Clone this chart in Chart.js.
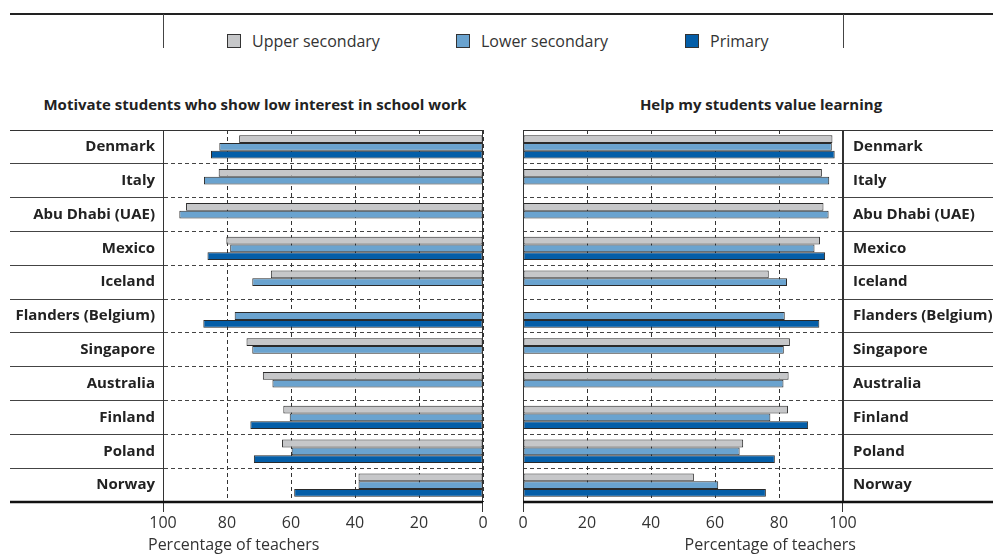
<!DOCTYPE html>
<html>
<head>
<meta charset="utf-8">
<script src="https://cdn.jsdelivr.net/npm/chart.js@4"></script>
<style>
  body { margin: 0; background: #fff; font-family: "Open Sans", sans-serif; color: #222; }
  #page { position: relative; width: 993px; height: 554px; overflow: hidden; }
  .abs { position: absolute; }
  #topRule { left: 10px; top: 13px; width: 983px; height: 2px; background: #222; }
  .vline { top: 14px; width: 1px; height: 34px; background: #444; }
  .legItem { top: 31px; font-size: 16px; line-height: 20px; white-space: nowrap; color: #333; }
  .legItem span { display: inline-block; width: 12px; height: 12px; border: 1px solid #333; vertical-align: -1px; margin-right: 11px; }
  .ptitle { top: 94px; font-size: 15px; font-weight: 700; white-space: nowrap; transform: translateX(-50%); }
  .axTitle { top: 535px; font-size: 16px; line-height: 18px; color: #333; white-space: nowrap; }
  canvas { position: absolute; top: 0; }
</style>
</head>
<body>
<div id="page">
  <div id="topRule" class="abs"></div>
  <div class="abs vline" style="left:163px"></div>
  <div class="abs vline" style="left:843px"></div>
  <div class="abs legItem" style="left:227px"><span style="background:#c6c7c9"></span>Upper secondary</div>
  <div class="abs legItem" style="left:456px"><span style="background:#6aa3cf"></span>Lower secondary</div>
  <div class="abs legItem" style="left:685px"><span style="background:#045ea8"></span>Primary</div>
  <div class="abs ptitle" style="left:255px">Motivate students who show low interest in school work</div>
  <div class="abs ptitle" style="left:761px">Help my students value learning</div>
  <div style="position:absolute;left:0;top:0;width:503px;height:554px"><canvas id="leftChart"></canvas></div>
  <div style="position:absolute;left:503px;top:0;width:490px;height:554px"><canvas id="rightChart"></canvas></div>
  <div class="abs axTitle" style="left:148px">Percentage of teachers</div>
  <div class="abs axTitle" style="right:137px">Percentage of teachers</div>
</div>
<script>
"use strict";

var countries = ['Denmark', 'Italy', 'Abu Dhabi (UAE)', 'Mexico', 'Iceland', 'Flanders (Belgium)',
                 'Singapore', 'Australia', 'Finland', 'Poland', 'Norway'];
var xTicks = [0, 20, 40, 60, 80, 100];

// Motivate students who show low interest in school work
var motivateUpper   = [76.2, 82.6, 92.8, 80.2, 66.3, null, 73.9, 68.8, 62.4, 62.8, 38.9];
var motivateLower   = [82.4, 87.2, 94.9, 79.0, 72.1, 77.6, 72.1, 65.8, 60.4, 59.8, 38.9];
var motivatePrimary = [85.0, null, null, 86.1, null, 87.4, null, null, 72.7, 71.6, 59.0];

// Help my students value learning
var valueUpper   = [96.7, 93.4, 93.9, 92.8, 76.8, null, 83.4, 83.0, 82.8, 68.8, 53.4];
var valueLower   = [96.5, 95.7, 95.5, 91.1, 82.5, 81.8, 81.5, 81.4, 77.3, 67.7, 61.0];
var valuePrimary = [97.4, null, null, 94.4, null, 92.6, null, null, 89.1, 78.7, 75.9];

var colUpper = '#c6c7c9', colLower = '#6aa3cf', colPrimary = '#045ea8';

function makeSets(u, l, p) {
	return [
		{ label: 'Upper secondary', data: u, backgroundColor: colUpper },
		{ label: 'Lower secondary', data: l, backgroundColor: colLower },
		{ label: 'Primary', data: p, backgroundColor: colPrimary }
	].map(function(d) {
		d.borderColor = '#2a2a2a';
		d.borderWidth = 1;
		d.borderSkipped = false;
		d.barPercentage = 1;
		d.categoryPercentage = 0.69;
		return d;
	});
}

// frame lines: top rule, thick bottom rule, solid 0 / 100 lines
var frame = {
	id: 'frame',
	afterDraw: function(chart, args, opts) {
		var c = chart.ctx, a = chart.chartArea;
		c.save();
		c.strokeStyle = '#333';
		c.lineWidth = 1;
		c.beginPath();
		c.moveTo(opts.x0, a.top + 0.5); c.lineTo(opts.x1, a.top + 0.5);
		c.moveTo(a.left + 0.5, a.top); c.lineTo(a.left + 0.5, a.bottom + 10);
		c.moveTo(a.right - 0.5, a.top); c.lineTo(a.right - 0.5, a.bottom + 10);
		c.stroke();
		c.strokeStyle = '#111';
		c.lineWidth = 2.5;
		c.beginPath();
		c.moveTo(opts.x0, a.bottom); c.lineTo(opts.x1, a.bottom);
		c.stroke();
		c.restore();
	}
};

function makeChart(id, sets, leftSide) {
	var ctx = document.getElementById(id).getContext('2d');
	return new Chart(ctx, {
		type: 'bar',
		data: { labels: countries, datasets: sets },
		plugins: [frame],
		options: {
			indexAxis: 'y',
			responsive: true,
			maintainAspectRatio: false,
			animation: false,
			layout: { padding: leftSide ? { top: 130, right: 20, left: 0, bottom: 0 } : { top: 130, left: 20, right: 0, bottom: 0 } },
			plugins: {
				legend: { display: false },
				tooltip: { enabled: false },
				frame: leftSide ? { x0: 10, x1: 483 } : { x0: 20, x1: 490 }
			},
			scales: {
				x: {
					type: 'linear',
					min: 0,
					max: 100,
					reverse: leftSide,
					afterBuildTicks: function(s) { s.ticks = xTicks.map(function(v) { return { value: v }; }); },
					afterFit: function(s) { s.height = 52; },
					grid: { color: '#333', lineWidth: 1, drawTicks: false },
					border: { display: false, dash: [4, 3] },
					ticks: { padding: 12, color: '#333', font: { family: 'Open Sans', size: 16 } }
				},
				y: {
					position: leftSide ? 'left' : 'right',
					afterFit: function(s) { s.width = leftSide ? 163 : 150; },
					grid: { color: '#444', lineWidth: 1, offset: true, drawTicks: true, tickLength: leftSide ? 153 : 150 },
					border: { display: true, color: '#333', width: 1, dash: [4, 3] },
					ticks: {
						padding: leftSide ? -145 : -140,
						color: '#222',
						font: { family: 'Open Sans', size: 15, weight: '700' }
					}
				}
			}
		}
	});
}

makeChart('leftChart', makeSets(motivateUpper, motivateLower, motivatePrimary), true);
makeChart('rightChart', makeSets(valueUpper, valueLower, valuePrimary), false);
</script>
</body>
</html>
